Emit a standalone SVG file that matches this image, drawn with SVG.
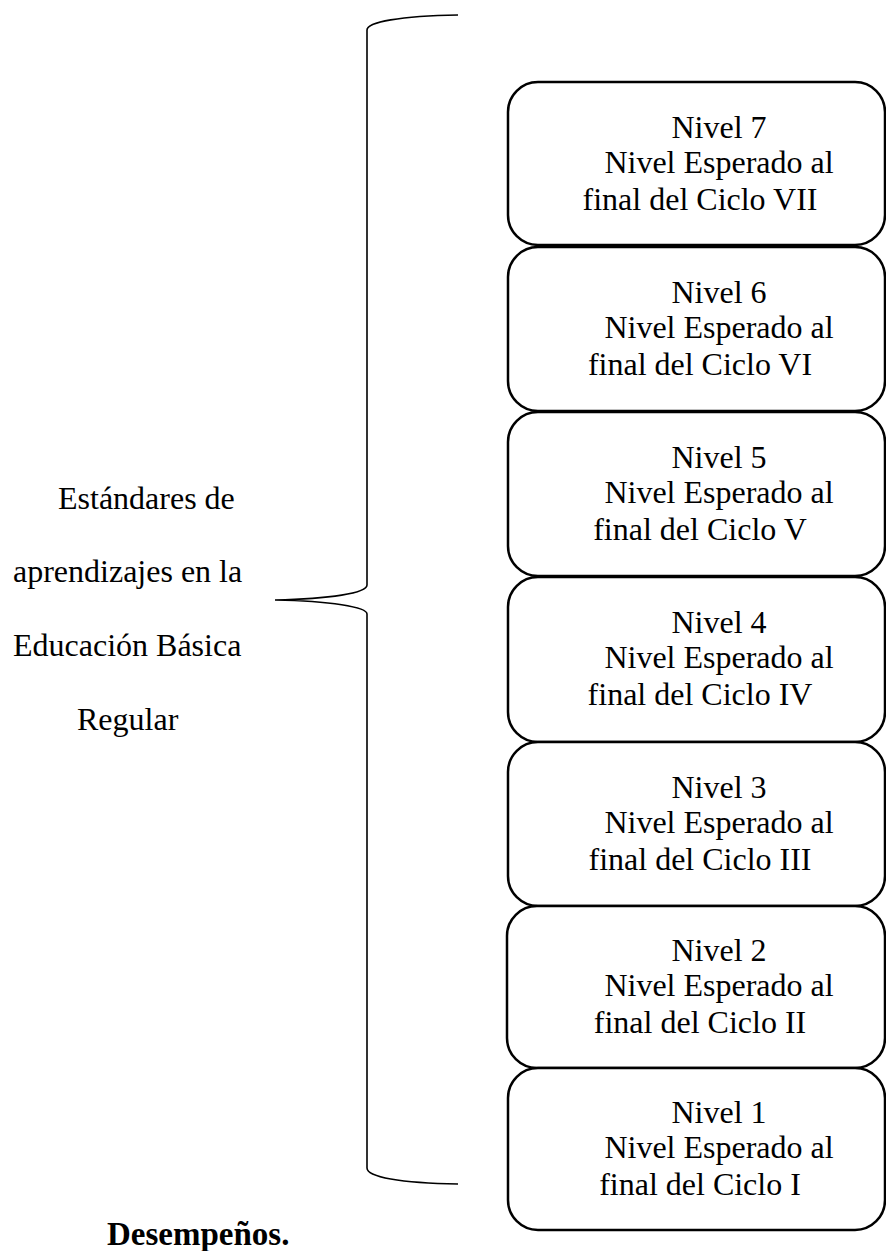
<svg xmlns="http://www.w3.org/2000/svg" width="886" height="1251" viewBox="0 0 886 1251">
  <style>
    .t { font-family: "Liberation Serif", "Times New Roman", serif; font-size: 32px; fill: #000; }
    .b { fill: #fff; stroke: #000; stroke-width: 2.5; }
    .c { text-anchor: middle; }
  </style>
  <rect x="0" y="0" width="886" height="1251" fill="#fff"/>
  <g id="connectors">
    <path d="M 458 15 C 400 16, 367 22, 367 30 L 367 585 C 367 593, 330 599, 275 600 C 330 601, 367 607, 367 614 L 367 1168 C 367 1177, 400 1183, 458 1184" fill="none" stroke="#000" stroke-width="1.6"/>
  </g>
  <g id="label-estandares">
    <text class="t" x="58" y="509">Estándares de</text>
    <text class="t" x="13" y="582">aprendizajes en la</text>
    <text class="t" x="13" y="656">Educación Básica</text>
    <text class="t" x="77" y="730">Regular</text>
  </g>
  <g id="nivel7">
    <rect class="b" x="508" y="82" width="377" height="163" rx="30"/>
    <text class="t c" x="719" y="138">Nivel 7</text>
    <text class="t c" x="719" y="173">Nivel Esperado al</text>
    <text class="t c" x="700" y="210">final del Ciclo VII</text>
  </g>
  <g id="nivel6">
    <rect class="b" x="508" y="247" width="377" height="164" rx="30"/>
    <text class="t c" x="719" y="303">Nivel 6</text>
    <text class="t c" x="719" y="338">Nivel Esperado al</text>
    <text class="t c" x="700" y="375">final del Ciclo VI</text>
  </g>
  <g id="nivel5">
    <rect class="b" x="508" y="412" width="377" height="164" rx="30"/>
    <text class="t c" x="719" y="468">Nivel 5</text>
    <text class="t c" x="719" y="503">Nivel Esperado al</text>
    <text class="t c" x="700" y="540">final del Ciclo V</text>
  </g>
  <g id="nivel4">
    <rect class="b" x="508" y="577" width="377" height="165" rx="30"/>
    <text class="t c" x="719" y="633">Nivel 4</text>
    <text class="t c" x="719" y="668">Nivel Esperado al</text>
    <text class="t c" x="700" y="705">final del Ciclo IV</text>
  </g>
  <g id="nivel3">
    <rect class="b" x="508" y="742" width="377" height="164" rx="30"/>
    <text class="t c" x="719" y="798">Nivel 3</text>
    <text class="t c" x="719" y="833">Nivel Esperado al</text>
    <text class="t c" x="700" y="870">final del Ciclo III</text>
  </g>
  <g id="nivel2">
    <rect class="b" x="507" y="906" width="378" height="162" rx="30"/>
    <text class="t c" x="719" y="961">Nivel 2</text>
    <text class="t c" x="719" y="996">Nivel Esperado al</text>
    <text class="t c" x="700" y="1033">final del Ciclo II</text>
  </g>
  <g id="nivel1">
    <rect class="b" x="508" y="1068" width="377" height="162" rx="30"/>
    <text class="t c" x="719" y="1123">Nivel 1</text>
    <text class="t c" x="719" y="1158">Nivel Esperado al</text>
    <text class="t c" x="700" y="1195">final del Ciclo I</text>
  </g>
  <g id="desempenos">
    <text class="t" x="107" y="1245" style="font-weight:bold;font-size:33px">Desempeños.</text>
  </g>
</svg>
